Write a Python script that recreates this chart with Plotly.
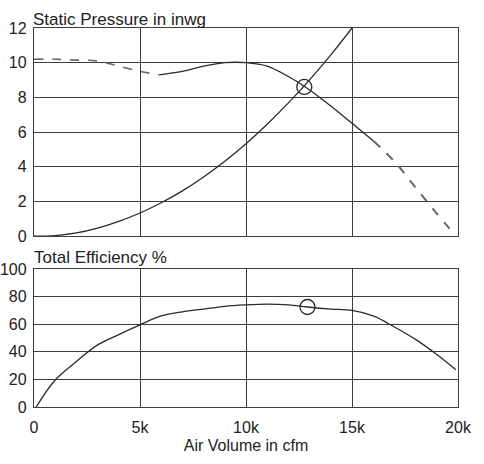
import plotly.graph_objects as go

# System curve (rising)
sys_q = [0, 1000, 2000, 3000, 4000, 5000, 6000, 7000, 8000, 9000, 10000, 11000, 12000, 13000, 14000, 15000]
sys_p = [0, 0.03, 0.18, 0.46, 0.85, 1.33, 1.92, 2.61, 3.41, 4.32, 5.33, 6.45, 7.68, 9.01, 10.45, 12.0]

# Fan static pressure curve: dashed low-flow part, solid, dashed high-flow part
fan_q_a = [0, 1000, 2000, 3000, 4000, 5000, 5900]
fan_p_a = [10.2, 10.2, 10.15, 10.1, 9.8, 9.5, 9.3]
fan_q_b = [5900, 7000, 8000, 9000, 10000, 11000, 12000, 12800, 14000, 15000, 16000]
fan_p_b = [9.3, 9.5, 9.8, 10.0, 10.0, 9.8, 9.2, 8.6, 7.5, 6.5, 5.5]
fan_q_c = [16000, 17000, 18000, 19000, 19800]
fan_p_c = [5.5, 4.3, 2.8, 1.3, 0.15]

# Efficiency curve
eff_q = [100, 1000, 2000, 3000, 4000, 5000, 6000, 7000, 8000, 9000, 10000, 11000, 12000, 12900, 14000, 15000, 16000, 17000, 18000, 19000, 19900]
eff_v = [0, 19.6, 33, 45, 52.5, 59.5, 66, 69, 71, 73, 74, 74.5, 74, 72.5, 71, 70, 66, 58, 49, 38, 27]

# Operating points
op_q = [12750]
op_p = [8.6]
op_eq = [12900]
op_e = [72.5]

x_ticks = [0, 5000, 10000, 15000, 20000]
x_labels = ["0", "5k", "10k", "15k", "20k"]
p_ticks = [0, 2, 4, 6, 8, 10, 12]
e_ticks = [0, 20, 40, 60, 80, 100]

LINE = "#2a2a2a"
DASH = "#666666"
GRID = "#3d3d3d"
TXT = "#222222"
FONT = "Liberation Sans, Arial, sans-serif"

fig = go.Figure()
fig.add_trace(go.Scatter(x=sys_q, y=sys_p, mode="lines", line=dict(color=LINE, width=1.3, shape="spline"),
                         xaxis="x2", yaxis="y2"))
fig.add_trace(go.Scatter(x=fan_q_a, y=fan_p_a, mode="lines", line=dict(color=DASH, width=1.6, dash="dash", shape="spline"),
                         xaxis="x2", yaxis="y2"))
fig.add_trace(go.Scatter(x=fan_q_b, y=fan_p_b, mode="lines", line=dict(color=LINE, width=1.3, shape="spline"),
                         xaxis="x2", yaxis="y2"))
fig.add_trace(go.Scatter(x=fan_q_c, y=fan_p_c, mode="lines", line=dict(color=DASH, width=2, dash="dash", shape="spline"),
                         xaxis="x2", yaxis="y2"))
fig.add_trace(go.Scatter(x=op_q, y=op_p, mode="markers",
                         marker=dict(symbol="circle-open", size=15, color=LINE, line=dict(width=1.3)),
                         xaxis="x2", yaxis="y2"))
fig.add_trace(go.Scatter(x=eff_q, y=eff_v, mode="lines", line=dict(color=LINE, width=1.3, shape="spline"),
                         xaxis="x", yaxis="y"))
fig.add_trace(go.Scatter(x=op_eq, y=op_e, mode="markers",
                         marker=dict(symbol="circle-open", size=15, color=LINE, line=dict(width=1.3)),
                         xaxis="x", yaxis="y"))

axis_common = dict(showgrid=True, gridcolor=GRID, gridwidth=1.4, showline=True, linecolor=GRID,
                   linewidth=1.4, mirror=True, zeroline=False, ticks="", automargin=False,
                   tickfont=dict(size=16, color=TXT, family=FONT))

fig.update_layout(
    width=484, height=464,
    margin=dict(l=34, r=26, t=28, b=57),
    paper_bgcolor="white", plot_bgcolor="white",
    showlegend=False,
    font=dict(family=FONT, color=TXT, size=16),
    xaxis=dict(domain=[0, 1], anchor="y", range=[0, 20000], tickvals=x_ticks, ticktext=x_labels,
               title=dict(text="Air Volume in cfm", font=dict(size=16, color=TXT), standoff=4),
               ticklabelstandoff=6, **axis_common),
    xaxis2=dict(domain=[0, 1], anchor="y2", range=[0, 20000], tickvals=x_ticks, showticklabels=False,
                matches="x", **axis_common),
    yaxis=dict(domain=[0, 0.364], anchor="x", range=[0, 100], tickvals=e_ticks, ticklabelstandoff=3, **axis_common),
    yaxis2=dict(domain=[0.451, 1], anchor="x2", range=[0, 12], tickvals=p_ticks, ticklabelstandoff=3, **axis_common),
    annotations=[
        dict(text="Static Pressure in inwg", x=0, y=1, xref="paper", yref="paper", xanchor="left",
             yanchor="bottom", showarrow=False, font=dict(size=17, color=TXT), yshift=-3, xshift=-3),
        dict(text="Total Efficiency %", x=0, y=0.364, xref="paper", yref="paper", xanchor="left",
             yanchor="bottom", showarrow=False, font=dict(size=17, color=TXT), yshift=0, xshift=-2),
    ],
)

fig.write_html("out.html", config={"displayModeBar": False},
               post_script="document.body.style.margin='0';document.body.style.overflow='hidden';")
